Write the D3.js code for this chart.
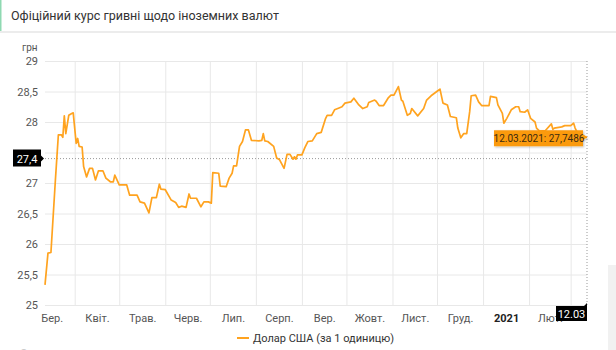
<!DOCTYPE html>
<html>
<head>
<meta charset="utf-8">
<script src="https://cdn.jsdelivr.net/npm/d3@7"></script>
<style>
  body { margin: 0; background: #fff; font-family: Roboto, "Noto Sans", sans-serif; }
  svg { display: block; }
</style>
</head>
<body>
<div id="chart"></div>
<script>
// Офіційний курс, долар США (за 1 одиницю), 12.03.2020 - 12.03.2021
var dates = [
  "2020-03-12","2020-03-14","2020-03-16","2020-03-19","2020-03-21","2020-03-23","2020-03-24","2020-03-25",
  "2020-03-26","2020-03-28","2020-03-30","2020-03-31","2020-04-02","2020-04-03","2020-04-04","2020-04-06",
  "2020-04-07","2020-04-09","2020-04-11","2020-04-13","2020-04-15","2020-04-17","2020-04-20","2020-04-22",
  "2020-04-25","2020-04-27","2020-04-28","2020-05-01","2020-05-06","2020-05-08","2020-05-13","2020-05-15",
  "2020-05-18","2020-05-21","2020-05-23","2020-05-26","2020-05-28","2020-05-29","2020-06-01","2020-06-05",
  "2020-06-08","2020-06-10","2020-06-12","2020-06-15","2020-06-17","2020-06-18","2020-06-22","2020-06-25",
  "2020-06-27","2020-06-30","2020-07-02","2020-07-03","2020-07-07","2020-07-08","2020-07-12","2020-07-14",
  "2020-07-16","2020-07-17","2020-07-19","2020-07-21","2020-07-23","2020-07-25","2020-07-27","2020-07-29",
  "2020-08-03","2020-08-05","2020-08-06","2020-08-07","2020-08-09","2020-08-13","2020-08-15","2020-08-17",
  "2020-08-20","2020-08-22","2020-08-24","2020-08-26","2020-08-27","2020-08-28","2020-08-29","2020-09-01",
  "2020-09-03","2020-09-05","2020-09-08","2020-09-11","2020-09-14","2020-09-17","2020-09-18","2020-09-21",
  "2020-09-23","2020-09-26","2020-09-28","2020-09-30","2020-10-04","2020-10-06","2020-10-09","2020-10-12",
  "2020-10-15","2020-10-16","2020-10-20","2020-10-21","2020-10-23","2020-10-26","2020-10-29","2020-10-31",
  "2020-11-02","2020-11-05","2020-11-07","2020-11-08","2020-11-11","2020-11-13","2020-11-14","2020-11-18",
  "2020-11-22","2020-11-24","2020-11-27","2020-12-02","2020-12-03","2020-12-05","2020-12-08","2020-12-10",
  "2020-12-14","2020-12-15","2020-12-17","2020-12-19","2020-12-21","2020-12-23","2020-12-24","2020-12-27",
  "2020-12-29","2020-12-31","2021-01-05","2021-01-06","2021-01-10","2021-01-11","2021-01-14","2021-01-15",
  "2021-01-17","2021-01-20","2021-01-23","2021-01-25","2021-01-26","2021-01-29","2021-01-31","2021-02-02",
  "2021-02-05","2021-02-06","2021-02-08","2021-02-12","2021-02-16","2021-02-17","2021-02-18","2021-02-23",
  "2021-02-25","2021-03-01","2021-03-03","2021-03-04","2021-03-06","2021-03-12"
];
var usd = [
  25.33,25.85,25.86,27.05,27.79,27.79,27.75,28.10,
  27.81,28.11,28.14,28.15,27.65,27.73,27.60,27.59,
  27.27,27.10,27.24,27.24,27.05,27.20,27.20,27.08,
  27.02,27.02,27.13,26.97,26.97,26.80,26.80,26.69,
  26.67,26.51,26.76,26.76,26.98,26.90,26.89,26.72,
  26.68,26.60,26.62,26.60,26.82,26.75,26.75,26.61,
  26.69,26.69,26.67,27.17,27.16,26.95,26.94,27.08,
  27.16,27.28,27.28,27.60,27.68,27.87,27.87,27.70,
  27.69,27.70,27.81,27.69,27.68,27.60,27.41,27.38,
  27.24,27.47,27.47,27.39,27.43,27.39,27.46,27.46,
  27.58,27.68,27.69,27.81,27.83,28.06,28.11,28.11,
  28.20,28.23,28.25,28.31,28.33,28.39,28.29,28.22,
  28.25,28.32,28.36,28.34,28.27,28.27,28.39,28.44,
  28.44,28.58,28.36,28.34,28.11,28.14,28.22,28.10,
  28.22,28.36,28.43,28.52,28.54,28.31,28.28,28.09,
  28.07,27.90,27.74,27.81,27.81,28.17,28.43,28.44,
  28.33,28.27,28.27,28.42,28.40,28.28,28.14,27.98,
  28.06,28.20,28.25,28.25,28.17,28.16,28.20,28.06,
  28.00,27.90,27.85,27.86,27.97,27.88,27.90,27.92,
  27.94,27.94,27.98,27.90,27.80,27.7486
];
var yTicks = [25, 25.5, 26, 26.5, 27, 27.5, 28, 28.5, 29];
var monthLabels = ["Бер.","Квіт.","Трав.","Черв.","Лип.","Серп.","Вер.","Жовт.","Лист.","Груд.","2021","Лют."];
var cursorValue = 27.4;

var width = 616, height = 350;
var margin = {left: 45, right: 29, top: 61, bottom: 45};
var lineColor = "#ffa31f";

var parse = d3.timeParse("%Y-%m-%d");
var data = dates.map(function(d, i) { return {date: parse(d), value: usd[i]}; });
var last = data[data.length - 1];

var svg = d3.select("#chart").append("svg")
  .attr("width", width)
  .attr("height", height);

// header
svg.append("rect")
  .attr("x", 0).attr("y", 31).attr("width", width).attr("height", 2)
  .attr("fill", "#ececec");
svg.append("rect")
  .attr("x", 0).attr("y", 0).attr("width", 1.5).attr("height", 31)
  .attr("fill", "#8fd9b2");
svg.append("text")
  .attr("x", 11).attr("y", 19.5)
  .attr("fill", "#333")
  .style("font-size", "12.5px")
  .text("Офіційний курс гривні щодо іноземних валют");

svg.append("rect")
  .attr("x", 608).attr("y", 265).attr("width", 8).attr("height", 85)
  .attr("fill", "#f1f1f1");

var x = d3.scaleTime()
  .domain([data[0].date, last.date])
  .range([margin.left, width - margin.right]);
var y = d3.scaleLinear()
  .domain([25, 29])
  .range([height - margin.bottom, margin.top]);

function comma(v) { return String(v).replace(".", ","); }

// horizontal grid + y labels (the cursor label hides the one it sits on)
var gy = svg.append("g")
  .attr("transform", "translate(" + margin.left + ",0)")
  .call(d3.axisLeft(y).tickValues(yTicks).tickSize(-(width - margin.right - margin.left)).tickPadding(7).tickFormat(comma));
gy.select(".domain").remove();
gy.selectAll(".tick line").attr("stroke", "#e8e8e8");
gy.selectAll(".tick text")
  .attr("fill", "#555")
  .style("font-size", "11px")
  .style("font-family", "Roboto, sans-serif")
  .filter(function(d) { return Math.abs(y(d) - y(cursorValue)) < 12; })
  .remove();

svg.append("text")
  .attr("x", 22).attr("y", 51)
  .attr("fill", "#555")
  .style("font-size", "10px")
  .text("грн");

// vertical grid at month starts
var monthStarts = d3.timeMonth.range(d3.timeMonth.ceil(x.domain()[0]), x.domain()[1]);
var gx = svg.append("g")
  .attr("transform", "translate(0," + (height - margin.bottom) + ")")
  .call(d3.axisBottom(x).tickValues(monthStarts).tickSize(-(height - margin.bottom - margin.top)).tickFormat(""));
gx.select(".domain").remove();
gx.selectAll(".tick line").attr("stroke", "#e8e8e8");

// month labels centred in each month cell
var cells = d3.timeMonth.range(d3.timeMonth.floor(x.domain()[0]), x.domain()[1]);
var labelDates = cells.map(function(m) {
  var next = d3.timeMonth.offset(m, 1);
  return new Date((m.getTime() + next.getTime()) / 2);
}).slice(0, monthLabels.length);
var gl = svg.append("g")
  .attr("transform", "translate(0," + (height - margin.bottom) + ")")
  .call(d3.axisBottom(x).tickValues(labelDates).tickSize(0).tickPadding(9)
    .tickFormat(function(d, i) { return monthLabels[i]; }));
gl.select(".domain").remove();
gl.selectAll(".tick text")
  .attr("fill", function(d, i) { return monthLabels[i] === "2021" ? "#222" : "#555"; })
  .style("font-weight", function(d, i) { return monthLabels[i] === "2021" ? "bold" : "normal"; })
  .style("font-size", "11px")
  .style("font-family", "Roboto, sans-serif");

// cursor lines
svg.append("line")
  .attr("x1", margin.left).attr("x2", x(last.date))
  .attr("y1", y(cursorValue)).attr("y2", y(cursorValue))
  .attr("stroke", "#999").attr("stroke-dasharray", "1,2");
svg.append("line")
  .attr("x1", x(last.date)).attr("x2", x(last.date))
  .attr("y1", margin.top).attr("y2", height - margin.bottom)
  .attr("stroke", "#999").attr("stroke-dasharray", "1,2");

// line
var line = d3.line()
  .x(function(d) { return x(d.date); })
  .y(function(d) { return y(d.value); });
svg.append("path")
  .datum(data)
  .attr("fill", "none")
  .attr("stroke", lineColor)
  .attr("stroke-width", 1.7)
  .attr("stroke-linejoin", "round")
  .attr("d", line);

// y cursor label
var cy = y(cursorValue);
svg.append("path")
  .attr("d", "M 13 " + (cy - 9) + " L 41 " + (cy - 9) + " L 41 " + (cy - 3) + " L 44 " + cy +
    " L 41 " + (cy + 3) + " L 41 " + (cy + 8) + " L 13 " + (cy + 8) + " Z")
  .attr("fill", "#000");
svg.append("text")
  .attr("x", 27).attr("y", cy + 4)
  .attr("text-anchor", "middle")
  .attr("fill", "#fff")
  .style("font-size", "11px")
  .text(comma(cursorValue));

// x cursor label
var cx = x(last.date), by = height - margin.bottom;
svg.append("path")
  .attr("d", "M 556 " + (by + 1) + " L " + (cx - 3) + " " + (by + 1) + " L " + cx + " " + (by - 2) +
    " L " + cx + " " + (by + 16) + " L 556 " + (by + 16) + " Z")
  .attr("fill", "#000");
svg.append("text")
  .attr("x", (556 + cx) / 2).attr("y", by + 12.5)
  .attr("text-anchor", "middle")
  .attr("fill", "#fff")
  .style("font-size", "11px")
  .text(d3.timeFormat("%d.%m")(last.date));

// value tooltip
var ty = y(last.value);
var defs = svg.append("defs");
var f = defs.append("filter").attr("id", "sh").attr("x", "-10%").attr("y", "-30%").attr("width", "130%").attr("height", "180%");
f.append("feDropShadow").attr("dx", 1).attr("dy", 1).attr("stdDeviation", 1.2).attr("flood-color", "#000").attr("flood-opacity", 0.25);
svg.append("path")
  .attr("d", "M 494 " + (ty - 7) + " L " + (cx - 4) + " " + (ty - 7) + " L " + (cx - 4) + " " + (ty - 3) +
    " L " + cx + " " + ty + " L " + (cx - 4) + " " + (ty + 3) + " L " + (cx - 4) + " " + (ty + 9) +
    " L 494 " + (ty + 9) + " Z")
  .attr("fill", "#fb9a0c")
  .attr("filter", "url(#sh)");
svg.append("text")
  .attr("x", 539).attr("y", ty + 5)
  .attr("text-anchor", "middle")
  .attr("fill", "#3a2a10")
  .style("font-size", "10px")
  .text(d3.timeFormat("%d.%m.%Y")(last.date) + ": " + comma(last.value));

// legend
svg.append("line")
  .attr("x1", 237).attr("x2", 249)
  .attr("y1", 338).attr("y2", 338)
  .attr("stroke", lineColor).attr("stroke-width", 2);
svg.append("text")
  .attr("x", 253).attr("y", 342)
  .attr("fill", "#333")
  .style("font-size", "11px")
  .text("Долар США (за 1 одиницю)");

svg.append("text")
  .attr("x", 20).attr("y", 357)
  .attr("fill", "#ccc")
  .style("font-size", "11px")
  .text("Одиниця");
</script>
</body>
</html>
